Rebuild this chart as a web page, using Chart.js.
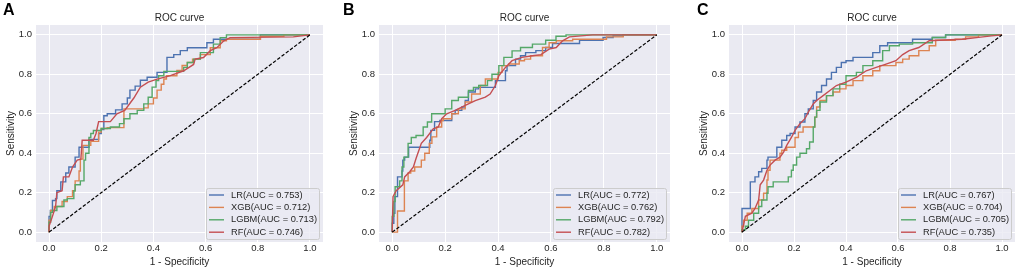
<!DOCTYPE html>
<html lang="en">
<head>
<meta charset="UTF-8">
<title>ROC curves</title>
<script src="https://cdn.jsdelivr.net/npm/chart.js"></script>
<style>
  body {
    margin: 0;
    background: #fff;
    width: 1021px;
    height: 271px;
    overflow: hidden;
    position: relative;
    font-family: 'Liberation Sans', Arial, sans-serif;
  }
  .panel { position: absolute; top: 0; }
  .tag {
    position: absolute;
    top: 2px;
    font-weight: bold;
    font-size: 16px;
    line-height: 16px;
    color: #000;
  }
</style>
</head>
<body>
  <canvas id="chartA" class="panel" width="330" height="271" style="left:0px"></canvas>
  <canvas id="chartB" class="panel" width="334" height="271" style="left:343px"></canvas>
  <canvas id="chartC" class="panel" width="328" height="271" style="left:693px"></canvas>
  <div class="tag" style="left:3px">A</div>
  <div class="tag" style="left:343px">B</div>
  <div class="tag" style="left:697px">C</div>

<script>
// axis ticks and legend names
const tickValues = [0, 0.2, 0.4, 0.6, 0.8, 1.0];
const models = ['LR', 'XGB', 'LGBM', 'RF'];

// AUC per panel (same order as models)
const aucA = [0.753, 0.712, 0.713, 0.746];
const aucB = [0.772, 0.762, 0.792, 0.782];
const aucC = [0.767, 0.704, 0.705, 0.735];

// chance line
const diagonal = [[0, 0], [1, 1]];

// ROC points, [1 - specificity, sensitivity]
// panel A
const lrA = [[0,0],[0.005,0.08],[0.013,0.11],[0.025,0.16],[0.03,0.17],[0.045,0.21],[0.064,0.255],[0.076,0.3],[0.09,0.33],[0.1,0.33],[0.115,0.38],[0.12,0.43],[0.153,0.43],[0.16,0.47],[0.19,0.47],[0.2,0.5],[0.21,0.52],[0.223,0.59],[0.255,0.6],[0.28,0.62],[0.3,0.65],[0.31,0.68],[0.33,0.72],[0.35,0.74],[0.376,0.77],[0.414,0.785],[0.452,0.81],[0.478,0.886],[0.503,0.9],[0.53,0.92],[0.567,0.935],[0.605,0.935],[0.63,0.96],[0.68,0.978],[0.81,0.978],[0.834,1],[1,1]];
const xgbA = [[0,0],[0,0.02],[0.006,0.06],[0.02,0.11],[0.05,0.13],[0.07,0.155],[0.09,0.18],[0.1,0.21],[0.115,0.26],[0.12,0.31],[0.13,0.37],[0.16,0.44],[0.19,0.46],[0.2,0.507],[0.223,0.525],[0.25,0.53],[0.287,0.53],[0.287,0.625],[0.363,0.625],[0.38,0.63],[0.4,0.65],[0.414,0.68],[0.43,0.72],[0.44,0.75],[0.45,0.776],[0.49,0.793],[0.51,0.82],[0.53,0.845],[0.55,0.86],[0.58,0.877],[0.618,0.9],[0.656,0.935],[0.68,0.97],[0.81,0.978],[0.9,0.993],[0.95,1],[1,1]];
const lgbmA = [[0,0],[0,0.03],[0.006,0.05],[0.013,0.1],[0.03,0.11],[0.057,0.13],[0.07,0.163],[0.095,0.17],[0.1,0.21],[0.12,0.24],[0.134,0.26],[0.14,0.365],[0.153,0.4],[0.16,0.48],[0.17,0.5],[0.2,0.515],[0.235,0.525],[0.27,0.533],[0.287,0.55],[0.31,0.575],[0.338,0.6],[0.363,0.617],[0.38,0.65],[0.395,0.684],[0.41,0.735],[0.42,0.768],[0.44,0.793],[0.478,0.815],[0.516,0.815],[0.53,0.835],[0.554,0.86],[0.58,0.877],[0.63,0.91],[0.656,0.953],[0.68,0.986],[0.707,1],[0.95,1],[1,1]];
const rfA = [[0,0],[0,0.03],[0.013,0.08],[0.025,0.13],[0.03,0.2],[0.05,0.21],[0.055,0.28],[0.076,0.28],[0.09,0.33],[0.108,0.365],[0.122,0.37],[0.127,0.466],[0.17,0.466],[0.18,0.5],[0.19,0.56],[0.235,0.56],[0.26,0.6],[0.29,0.617],[0.325,0.68],[0.35,0.735],[0.38,0.76],[0.414,0.776],[0.465,0.793],[0.516,0.818],[0.554,0.85],[0.56,0.877],[0.592,0.885],[0.618,0.92],[0.643,0.935],[0.67,0.97],[0.694,0.986],[0.936,0.99],[1,1]];

// panel B
const lrB = [[0,0],[0.006,0.045],[0.01,0.096],[0.02,0.18],[0.02,0.28],[0.037,0.28],[0.04,0.31],[0.047,0.365],[0.062,0.38],[0.07,0.43],[0.142,0.43],[0.146,0.466],[0.16,0.516],[0.18,0.56],[0.225,0.566],[0.238,0.6],[0.263,0.617],[0.276,0.634],[0.288,0.667],[0.314,0.71],[0.327,0.726],[0.39,0.734],[0.428,0.768],[0.434,0.818],[0.466,0.844],[0.485,0.877],[0.504,0.894],[0.543,0.91],[0.58,0.92],[0.606,0.936],[0.708,0.956],[0.797,0.973],[0.835,0.987],[0.873,0.995],[1,1]];
const xgbB = [[0,0],[0.02,0],[0.02,0.107],[0.046,0.107],[0.046,0.24],[0.06,0.26],[0.07,0.3],[0.085,0.31],[0.11,0.33],[0.123,0.365],[0.14,0.4],[0.15,0.45],[0.168,0.483],[0.187,0.533],[0.193,0.566],[0.225,0.575],[0.25,0.6],[0.276,0.625],[0.3,0.66],[0.333,0.7],[0.352,0.743],[0.37,0.776],[0.4,0.776],[0.415,0.81],[0.44,0.844],[0.48,0.852],[0.5,0.869],[0.523,0.877],[0.568,0.894],[0.593,0.936],[0.62,0.96],[0.682,0.97],[0.81,0.978],[0.873,0.99],[0.936,1],[1,1]];
const lgbmB = [[0,0],[0.006,0.08],[0.011,0.155],[0.028,0.23],[0.037,0.26],[0.044,0.33],[0.06,0.38],[0.072,0.45],[0.09,0.48],[0.117,0.49],[0.133,0.533],[0.149,0.558],[0.17,0.6],[0.2,0.6],[0.225,0.625],[0.25,0.667],[0.288,0.684],[0.307,0.718],[0.327,0.734],[0.36,0.743],[0.377,0.768],[0.403,0.8],[0.422,0.844],[0.453,0.886],[0.485,0.919],[0.53,0.936],[0.58,0.953],[0.619,0.973],[0.657,0.993],[0.67,1],[1,1]];
const rfB = [[0,0],[0.003,0.18],[0.015,0.21],[0.04,0.24],[0.047,0.28],[0.066,0.306],[0.08,0.33],[0.09,0.373],[0.11,0.45],[0.13,0.48],[0.155,0.524],[0.174,0.533],[0.187,0.575],[0.206,0.6],[0.238,0.617],[0.276,0.642],[0.314,0.667],[0.352,0.684],[0.37,0.7],[0.39,0.743],[0.403,0.793],[0.428,0.835],[0.453,0.869],[0.49,0.886],[0.53,0.894],[0.562,0.9],[0.593,0.928],[0.62,0.936],[0.644,0.97],[0.67,0.99],[0.758,1],[1,1]];

// panel C
const lrC = [[0,0],[0,0.12],[0.032,0.12],[0.032,0.24],[0.05,0.255],[0.064,0.28],[0.076,0.306],[0.096,0.323],[0.1,0.365],[0.134,0.38],[0.153,0.43],[0.172,0.466],[0.185,0.49],[0.204,0.5],[0.223,0.533],[0.242,0.558],[0.255,0.6],[0.274,0.625],[0.287,0.667],[0.306,0.71],[0.325,0.743],[0.344,0.776],[0.363,0.81],[0.382,0.835],[0.4,0.86],[0.427,0.869],[0.503,0.886],[0.53,0.91],[0.56,0.945],[0.605,0.96],[0.656,0.96],[0.732,0.978],[0.783,0.987],[0.82,1],[1,1]];
const xgbC = [[0,0],[0.006,0.03],[0.02,0.06],[0.038,0.096],[0.064,0.12],[0.083,0.163],[0.096,0.197],[0.1,0.264],[0.108,0.314],[0.12,0.365],[0.146,0.365],[0.153,0.4],[0.172,0.415],[0.204,0.43],[0.217,0.48],[0.235,0.507],[0.26,0.533],[0.28,0.533],[0.287,0.583],[0.3,0.634],[0.325,0.667],[0.35,0.692],[0.376,0.71],[0.4,0.726],[0.427,0.743],[0.465,0.768],[0.503,0.793],[0.53,0.818],[0.554,0.844],[0.592,0.844],[0.618,0.86],[0.643,0.877],[0.68,0.894],[0.72,0.92],[0.745,0.945],[0.77,0.973],[0.82,0.973],[0.86,0.978],[0.91,0.99],[0.96,1],[1,1]];
const lgbmC = [[0,0],[0.013,0.012],[0.025,0.03],[0.045,0.06],[0.064,0.096],[0.076,0.13],[0.096,0.163],[0.1,0.197],[0.12,0.23],[0.14,0.255],[0.178,0.255],[0.19,0.28],[0.197,0.314],[0.21,0.34],[0.223,0.38],[0.248,0.4],[0.26,0.423],[0.274,0.457],[0.28,0.533],[0.287,0.583],[0.3,0.617],[0.325,0.66],[0.35,0.692],[0.376,0.726],[0.4,0.75],[0.44,0.793],[0.465,0.81],[0.503,0.844],[0.541,0.869],[0.567,0.92],[0.605,0.945],[0.656,0.953],[0.732,0.96],[0.783,0.987],[0.847,1],[1,1]];
const rfC = [[0,0],[0.006,0.037],[0.013,0.08],[0.038,0.096],[0.05,0.12],[0.064,0.163],[0.07,0.24],[0.083,0.264],[0.096,0.314],[0.108,0.34],[0.127,0.365],[0.146,0.38],[0.16,0.406],[0.172,0.44],[0.19,0.48],[0.204,0.516],[0.223,0.55],[0.242,0.575],[0.255,0.608],[0.274,0.65],[0.287,0.667],[0.312,0.692],[0.338,0.718],[0.363,0.743],[0.4,0.76],[0.44,0.785],[0.478,0.818],[0.516,0.835],[0.554,0.852],[0.592,0.869],[0.618,0.9],[0.643,0.92],[0.68,0.936],[0.72,0.97],[0.758,0.973],[0.847,0.978],[0.91,0.987],[0.96,0.995],[1,1]];

// seaborn "deep" colours, darkgrid look
const lineColors = ['#4C72B0', '#DD8452', '#55A868', '#C44E52'];
const lineSteps = ['after', 'after', 'after', false];
const family = "'Liberation Sans', Arial, sans-serif";
const txt = '#262626';

// grey panel behind the plot
const panelBg = {
  id: 'panelBg',
  beforeDraw(chart) {
    const { ctx, chartArea: a } = chart;
    ctx.save();
    ctx.fillStyle = '#EAEAF2';
    ctx.fillRect(a.left, a.top, a.right - a.left, a.bottom - a.top);
    ctx.restore();
  }
};

// matplotlib style legend in the lower right corner
const legendBox = {
  id: 'legendBox',
  afterDatasetsDraw(chart) {
    const { ctx, chartArea: a } = chart;
    const items = chart.data.datasets.filter(d => !d.isDiag);
    const w = 113, h = 51;
    const x = Math.round(a.right - w - 4), y = Math.round(a.bottom - h - 3);
    ctx.save();
    ctx.beginPath();
    ctx.roundRect(x + 0.5, y + 0.5, w, h, 2);
    ctx.fillStyle = 'rgba(234,234,242,0.8)';
    ctx.fill();
    ctx.strokeStyle = '#cccccc';
    ctx.lineWidth = 1;
    ctx.stroke();
    ctx.font = '9.3px ' + family;
    ctx.textBaseline = 'middle';
    items.forEach((d, i) => {
      const ry = y + 7 + i * 12.4;
      ctx.strokeStyle = d.borderColor;
      ctx.lineWidth = 1.4;
      ctx.beginPath();
      ctx.moveTo(x + 3, ry);
      ctx.lineTo(x + 18, ry);
      ctx.stroke();
      ctx.fillStyle = txt;
      ctx.fillText(d.label, x + 25, ry);
    });
    ctx.restore();
  }
};

function toXY(pts) {
  return pts.map(p => ({ x: p[0], y: p[1] }));
}

function makeChart(id, curves, auc, padRight) {
  const datasets = curves.map((pts, i) => ({
    label: models[i] + '(AUC = ' + auc[i].toFixed(3) + ')',
    data: toXY(pts),
    borderColor: lineColors[i],
    borderWidth: 1.4,
    pointRadius: 0,
    stepped: lineSteps[i],
    tension: 0,
    fill: false,
    order: 4 - i
  }));
  datasets.push({
    label: 'chance',
    isDiag: true,
    data: toXY(diagonal),
    borderColor: '#000',
    borderWidth: 1.2,
    borderDash: [3.5, 1.8],
    pointRadius: 0,
    order: 0
  });

  return new Chart(document.getElementById(id), {
    type: 'line',
    data: { datasets },
    options: {
      responsive: false,
      animation: false,
      layout: { padding: { top: 0, right: padRight, bottom: 0, left: 0 } },
      plugins: {
        legend: { display: false },
        tooltip: { enabled: false },
        title: {
          display: true,
          text: 'ROC curve',
          fullSize: false,
          color: txt,
          font: { size: 10, family, weight: 'normal' },
          padding: { top: 12, bottom: 1 }
        }
      },
      scales: {
        x: {
          type: 'linear',
          min: -0.05,
          max: 1.05,
          afterBuildTicks: s => { s.ticks = tickValues.map(v => ({ value: v })); },
          afterFit: s => { s.height = 29; },
          border: { display: false },
          grid: { color: '#ffffff', lineWidth: 1, drawTicks: false },
          ticks: { padding: 1, color: txt, font: { size: 9.5, family }, callback: v => v.toFixed(1) },
          title: { display: true, text: '1 - Specificity', color: txt, font: { size: 10, family }, padding: { top: 0, bottom: 3 } }
        },
        y: {
          type: 'linear',
          min: -0.05,
          max: 1.05,
          afterBuildTicks: s => { s.ticks = tickValues.map(v => ({ value: v })); },
          afterFit: s => { s.width = 36; },
          border: { display: false },
          grid: { color: '#ffffff', lineWidth: 1, drawTicks: false },
          ticks: { padding: 4, color: txt, font: { size: 9.5, family }, callback: v => v.toFixed(1) },
          title: { display: true, text: 'Sensitivity', color: txt, font: { size: 10, family }, padding: { top: 5, bottom: 0 } }
        }
      }
    },
    plugins: [panelBg, legendBox]
  });
}

makeChart('chartA', [lrA, xgbA, lgbmA, rfA], aucA, 7);
makeChart('chartB', [lrB, xgbB, lgbmB, rfB], aucB, 7);
makeChart('chartC', [lrC, xgbC, lgbmC, rfC], aucC, 6);
</script>
</body>
</html>
